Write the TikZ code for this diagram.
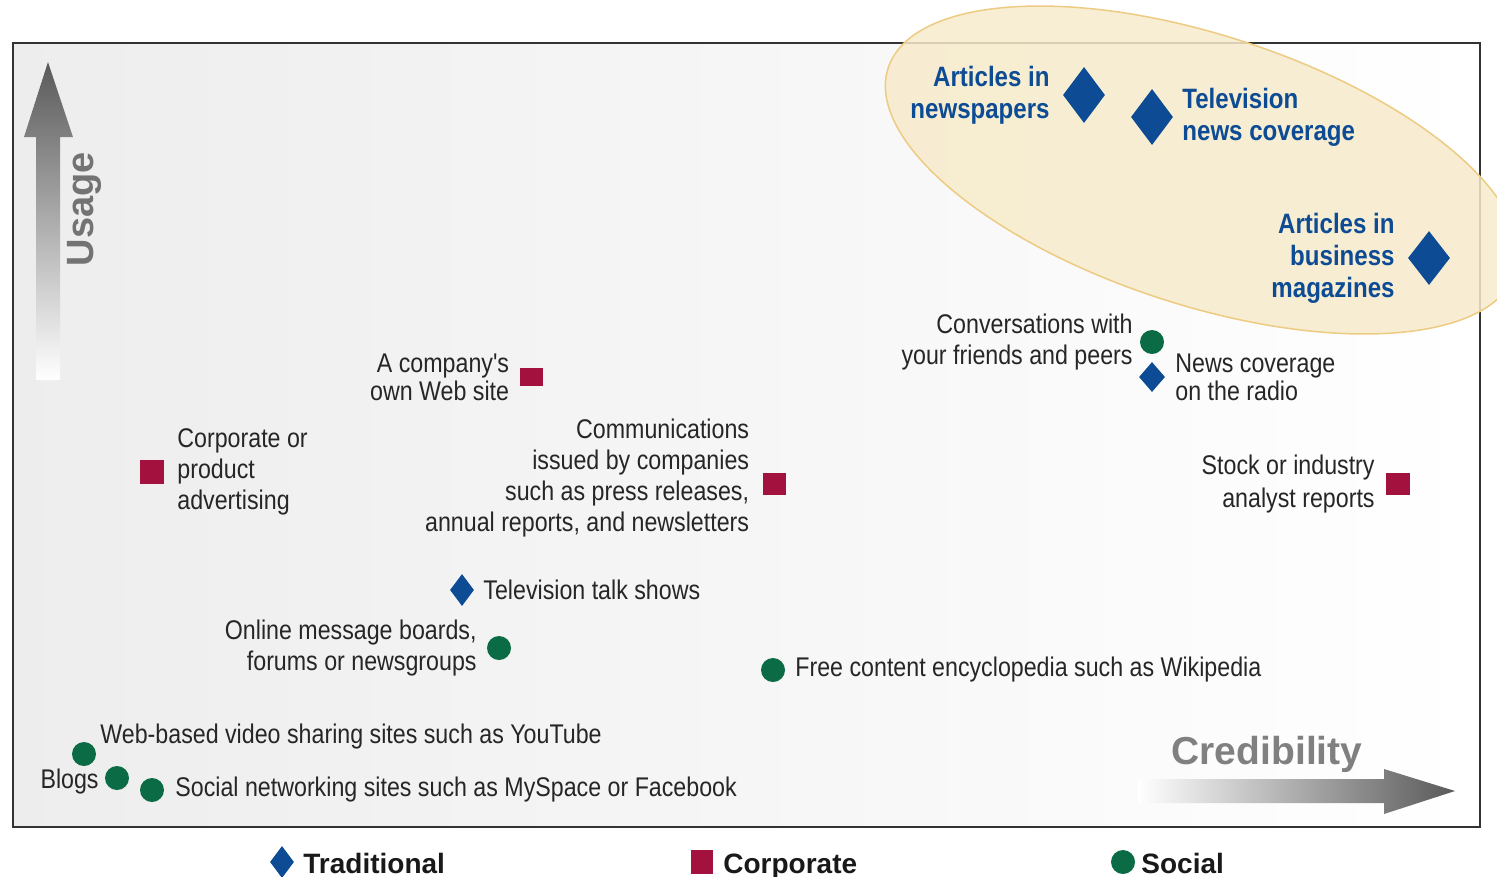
\documentclass[tikz,border=0pt]{standalone}
\usepackage{fontspec}
\setmainfont{Liberation Sans}
\newfontfamily\narrowfont{Liberation Sans}[FakeStretch=0.86]
\usetikzlibrary{shapes.geometric, positioning}

\definecolor{tradblue}{HTML}{0D4C94}
\definecolor{corpred}{HTML}{A3123F}
\definecolor{socgreen}{HTML}{0B6B45}
\definecolor{ovalfill}{HTML}{F7EBCB}
\definecolor{ovaldraw}{HTML}{EDCB82}

\begin{document}
\begin{tikzpicture}[x=1pt, y=-1pt,
    trad/.style={diamond, fill=tradblue, inner sep=0pt, minimum width=24pt, minimum height=32pt},
    bigtrad/.style={trad, minimum width=42pt, minimum height=56pt},
    corp/.style={rectangle, fill=corpred, inner sep=0pt, minimum width=23pt, minimum height=22pt},
    soc/.style={circle, fill=socgreen, inner sep=0pt, minimum size=24pt},
    lbl/.style={font=\narrowfont\fontsize{27}{31}\selectfont, text=black!85, inner sep=0pt},
    bluelbl/.style={font=\narrowfont\bfseries\fontsize{28}{32}\selectfont, text=tradblue, inner sep=0pt},
    legtxt/.style={font=\bfseries\fontsize{28}{32}\selectfont, text=black!90, inner sep=0pt, text height=20pt, text depth=6pt}]
    \useasboundingbox (0,0) rectangle (1497,876);
    % frame
    \shade[left color=gray!14, right color=white] (13,43) rectangle (1480,827);
    \draw[line width=2pt, black!80] (13,43) rectangle (1480,827);
    \draw[ovaldraw, line width=1.5pt, fill=ovalfill, fill opacity=0.85, rotate around={-18:(1202,170)}]
        (1202,170) ellipse [x radius=330, y radius=135];
    % axes
    \shade[top color=black!65, bottom color=white] (36,380) -- (36,137) -- (24,137) -- (48,62) -- (73,137) -- (60,137) -- (60,380) -- cycle;
    \node[rotate=90, font=\bfseries\fontsize{38}{40}\selectfont, text=black!55] (usage) at (84,209) {Usage};
    \shade[left color=white, right color=black!65] (1138,779) -- (1384,779) -- (1384,769) -- (1455,791) -- (1384,814) -- (1384,803) -- (1138,803) -- cycle;
    \node[font=\bfseries\fontsize{39}{40}\selectfont, text=black!50] (cred) at (1267,754) {Credibility};
    % traditional
    \node[bigtrad] (papers) at (1084,95) {};
    \node[bluelbl, left=13pt of papers, align=right] {Articles in\\newspapers};
    \node[bigtrad] (tvnews) at (1152,117) {};
    \node[bluelbl, right=9pt of tvnews, align=left] {Television\\news coverage};
    \node[bigtrad, minimum height=54pt] (business) at (1429,258) {};
    \node[bluelbl, left=13pt of business, align=right] {Articles in\\business\\magazines};
    \node[trad, minimum width=26pt, minimum height=30pt] (radio) at (1152,377) {};
    \node[lbl, right=10pt of radio, align=left, font=\narrowfont\fontsize{27}{28}\selectfont] {News coverage\\on the radio};
    \node[trad] (talk) at (462,590) {};
    \node[lbl, right=9pt of talk] {Television talk shows};
    % corporate
    \node[corp, minimum height=18pt] (website) at (531,377) {};
    \node[lbl, left=10pt of website, align=right, font=\narrowfont\fontsize{27}{28}\selectfont] {A company's\\own Web site};
    \node[corp, minimum width=24pt, minimum height=24pt] (advert) at (152,472) {};
    \node[lbl, right=13pt of advert, align=left] {Corporate or\\product\\advertising};
    \node[corp] (comms) at (774,484) {};
    \node[lbl, left=13pt of comms, yshift=6pt, align=right] {Communications\\issued by companies\\such as press releases,\\annual reports, and newsletters};
    \node[corp, minimum width=24pt] (analyst) at (1398,484) {};
    \node[lbl, left=11pt of analyst, align=right, font=\narrowfont\fontsize{27}{33}\selectfont] {Stock or industry\\analyst reports};
    % social
    \node[soc] (peers) at (1152,342) {};
    \node[lbl, left=7pt of peers, align=right] {Conversations with\\your friends and peers};
    \node[soc] (forums) at (499,648) {};
    \node[lbl, left=10pt of forums, align=right] {Online message boards,\\forums or newsgroups};
    \node[soc] (wiki) at (773,670) {};
    \node[lbl, right=10pt of wiki] {Free content encyclopedia such as Wikipedia};
    \node[soc] (youtube) at (84,754) {};
    \node[lbl, right=4pt of youtube, yshift=17pt] {Web-based video sharing sites such as YouTube};
    \node[soc] (blogs) at (117,778) {};
    \node[lbl, left=6pt of blogs, yshift=-4pt] {Blogs};
    \node[soc] (myspace) at (152,790) {};
    \node[lbl, right=11pt of myspace] {Social networking sites such as MySpace or Facebook};
    % legend
    \node[trad] (legtrad) at (282,862) {};
    \node[legtxt, right=9pt of legtrad, yshift=-4pt] {Traditional};
    \node[corp, minimum width=22pt, minimum height=24pt] (legcorp) at (702,862) {};
    \node[legtxt, right=10pt of legcorp, yshift=-4pt] {Corporate};
    \node[soc] (legsoc) at (1123,862) {};
    \node[legtxt, right=6pt of legsoc, yshift=-4pt] {Social};
\end{tikzpicture}
\end{document}
